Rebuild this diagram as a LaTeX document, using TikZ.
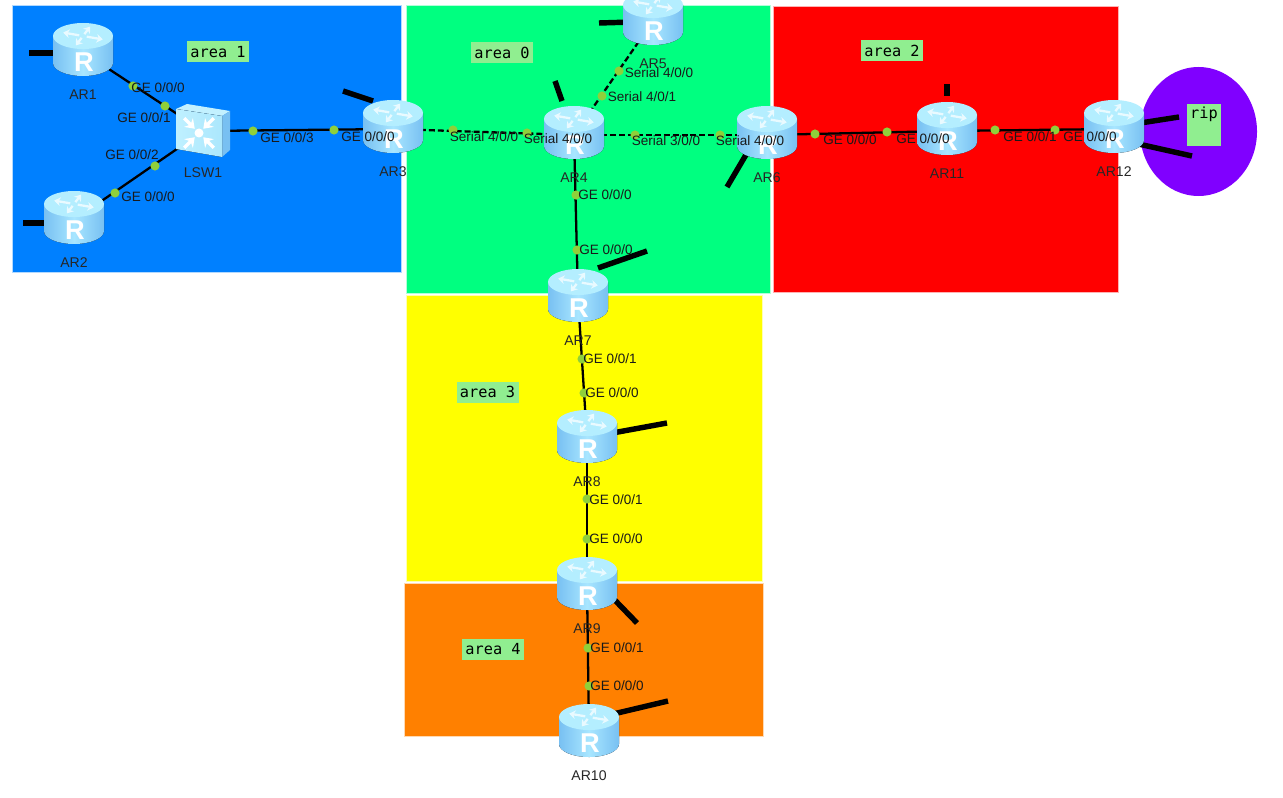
\documentclass[tikz,border=0pt]{standalone}
\usepackage{fontspec}
\usetikzlibrary{arrows.meta}
\setmainfont{Liberation Sans}
\setmonofont{DejaVu Sans Mono}
\definecolor{areablue}{HTML}{0080FF}
\definecolor{areagreen}{HTML}{00FF80}
\definecolor{areared}{HTML}{FF0000}
\definecolor{areayellow}{HTML}{FFFF00}
\definecolor{areaorange}{HTML}{FF8000}
\definecolor{ripviolet}{HTML}{8000FF}
\definecolor{notegreen}{HTML}{90EE90}
\definecolor{dotgreen}{HTML}{8FD03A}
\definecolor{icontop}{HTML}{B4EEFF}
\definecolor{iconside}{HTML}{78C0F2}
\definecolor{iconmid}{HTML}{A8E6FF}
\tikzset{
  area/.style={draw=white!70!#1, line width=0.3pt, fill=#1},
  note/.style={fill=notegreen, font=\ttfamily\fontsize{8.7}{10}\selectfont, inner sep=0pt, align=center},
  link/.style={black, line width=1.3pt},
  seriallink/.style={black, line width=1.3pt, dash pattern=on 3.4pt off 1.7pt},
  stub/.style={black, line width=3.1pt},
  devname/.style={font=\fontsize{8}{10}\selectfont, text=black!85, inner sep=0pt},
  port/.style={font=\fontsize{7.7}{9}\selectfont, text=black!90, inner sep=0pt},
  portdot/.style={circle, fill=dotgreen, inner sep=0pt, minimum size=5.2pt},
  anchorbox/.style={rectangle, inner sep=0pt, minimum width=1.2cm, minimum height=1.08cm},
  routericon/.pic={
    \fill[left color=iconside, right color=iconside, middle color=iconmid]
      (-30,-16) -- (-30,11) arc[x radius=30, y radius=13, start angle=180, end angle=0] -- (30,-16) -- cycle;
    \fill[icontop] (0,-16) ellipse[x radius=30, y radius=13];
    \foreach \a in {20,110,200,290}
      \draw[white!70!icontop, line width=1.3pt, shift={(0,-16)}, -{Stealth[length=3.5pt,width=5pt]}]
        (\a:4 and 2) -- (\a:21 and 10);
    \node[white, inner sep=0pt, font=\bfseries\fontsize{15.5}{15.5}\selectfont] (letter) at (1,10) {R};
  },
  switchicon/.pic={
    \fill[white!20!icontop] (-27,-22) -- (-16,-27) -- (27,-20) -- (19,-15) -- cycle;
    \fill[iconside] (19,-15) -- (27,-20) -- (27,19) -- (19,26) -- cycle;
    \fill[left color=white!15!icontop, right color=icontop!85!iconside] (-27,-22) -- (19,-15) -- (19,26) -- (-27,18) -- cycle;
    \foreach \a in {45,135,225,315}
      \draw[white, line width=1.9pt, {Stealth[length=5pt,width=7pt]}-] (-4,2)
        ++(\a:6) -- ++(\a:15);
    \fill[white] (-4,2) circle[radius=4.5];
  }
}
\begin{document}
\begin{tikzpicture}[x=0.02cm, y=-0.02cm]
\useasboundingbox (0,0) rectangle (1283,797);
\clip (0,0) rectangle (1283,797);

% areas
\path[area=areablue] (12,5) rectangle (401,272);
\path[area=areagreen] (406,5) rectangle (770,293);
\path[area=areared] (773,6) rectangle (1118,292);
\path[area=areayellow] (406,295) rectangle (762,581);
\path[area=areaorange] (404,583) rectangle (763,736);
\fill[ripviolet] (1198.5,131.5) ellipse[x radius=58.5, y radius=64.5];

% devices, icons follow after the links
\foreach \r/\x/\y in {AR1/83/52,AR2/74/220,AR3/393/129,AR4/574/135,AR5/653/21,AR6/767/135,
  AR7/578/298,AR8/587/439,AR9/587/586,AR10/589/733,AR11/947/131,AR12/1114/129} {
  \node[anchorbox] (\r) at (\x,\y) {};
}
\node[anchorbox] (LSW1) at (203,131) {};

% links
\foreach \a/\b in {AR1/LSW1,AR2/LSW1,LSW1/AR3,AR4/AR7,AR7/AR8,AR8/AR9,AR9/AR10,AR6/AR11,AR11/AR12} {
  \draw[link] (\a.center) -- (\b.center);
}
\foreach \a/\b in {AR3/AR4,AR4/AR5,AR4/AR6} {
  \draw[seriallink] (\a.center) -- (\b.center);
}

% unconnected stubs
\foreach \n/\r/\sx/\sy/\ex/\ey in {a/AR1/-20/1/29/53,b/AR2/-20/3/23/223,c/AR3/-20/-28/343/91,
  d/AR4/-12/-34/555/81,e/AR5/-20/1/599/23,f/AR6/-20/18/727/187,g/AR7/20/-30/647/251,
  h/AR8/20/-5/667/423,i/AR9/20/6/637/623,j/AR10/20/-18/668/701,k/AR11/0/-35/947/84,
  l/AR12/20/-5/1179/117,m/AR12/20/14/1192/156} {
  \coordinate (stub\n) at (\ex,\ey);
  \draw[stub] ([shift={(\sx,\sy)}]\r.center) -- (stub\n);
}

% icons
\foreach \r in {AR1,AR2,AR3,AR4,AR5,AR6,AR7,AR8,AR9,AR10,AR11,AR12} {
  \pic (\r icon) at (\r.center) {routericon};
  \node[devname, yshift=-0.86cm] (\r name) at (\r.center) {\r};
}
\pic at (LSW1.center) {switchicon};
\node[devname] (LSW1 name) at (203,173) {LSW1};

% port dots
\foreach \x/\y [count=\i] in {133/86,165/106,115/193,155/166,253/131,334/130,453/130,527/133,
  602/96,619/71,635/135,720/135,576/195,577/250,582/359,584/393,587/499,587/539,588/648,589/686,
  815/134,887/132,995/130,1055/130} {
  \node[portdot] (dot\i) at (\x,\y) {};
}

% port labels
\foreach \x/\y/\t [count=\i] in {158/88/{GE 0/0/0},144/118/{GE 0/0/1},148/197/{GE 0/0/0},132/155/{GE 0/0/2},
  287/138/{GE 0/0/3},368/137/{GE 0/0/0},484/137/{Serial 4/0/0},558/139/{Serial 4/0/0},
  642/97/{Serial 4/0/1},659/73/{Serial 4/0/0},666/141/{Serial 3/0/0},750/141/{Serial 4/0/0},
  605/195/{GE 0/0/0},606/250/{GE 0/0/0},610/359/{GE 0/0/1},612/393/{GE 0/0/0},
  616/500/{GE 0/0/1},616/539/{GE 0/0/0},617/648/{GE 0/0/1},617/686/{GE 0/0/0},
  850/140/{GE 0/0/0},923/139/{GE 0/0/0},1030/137/{GE 0/0/1},1090/137/{GE 0/0/0}} {
  \node[port] (port\i) at (\x,\y) {\t};
}

% notes
\foreach \n/\x/\y/\t in {1/218/52/area 1,0/502/53/area 0,2/892/51/area 2,3/487.5/392/area 3,4/493/649/area 4} {
  \node[note, minimum width=1.24cm, minimum height=0.42cm] (note\n) at (\x,\y) {\t};
}
\node[note, minimum width=0.68cm, minimum height=0.84cm, anchor=north] (noterip) at (1204,104) {};
\node[font=\ttfamily\fontsize{8.7}{10}\selectfont, inner sep=0pt] (riptext) at (1204,114) {rip};
\end{tikzpicture}
\end{document}
